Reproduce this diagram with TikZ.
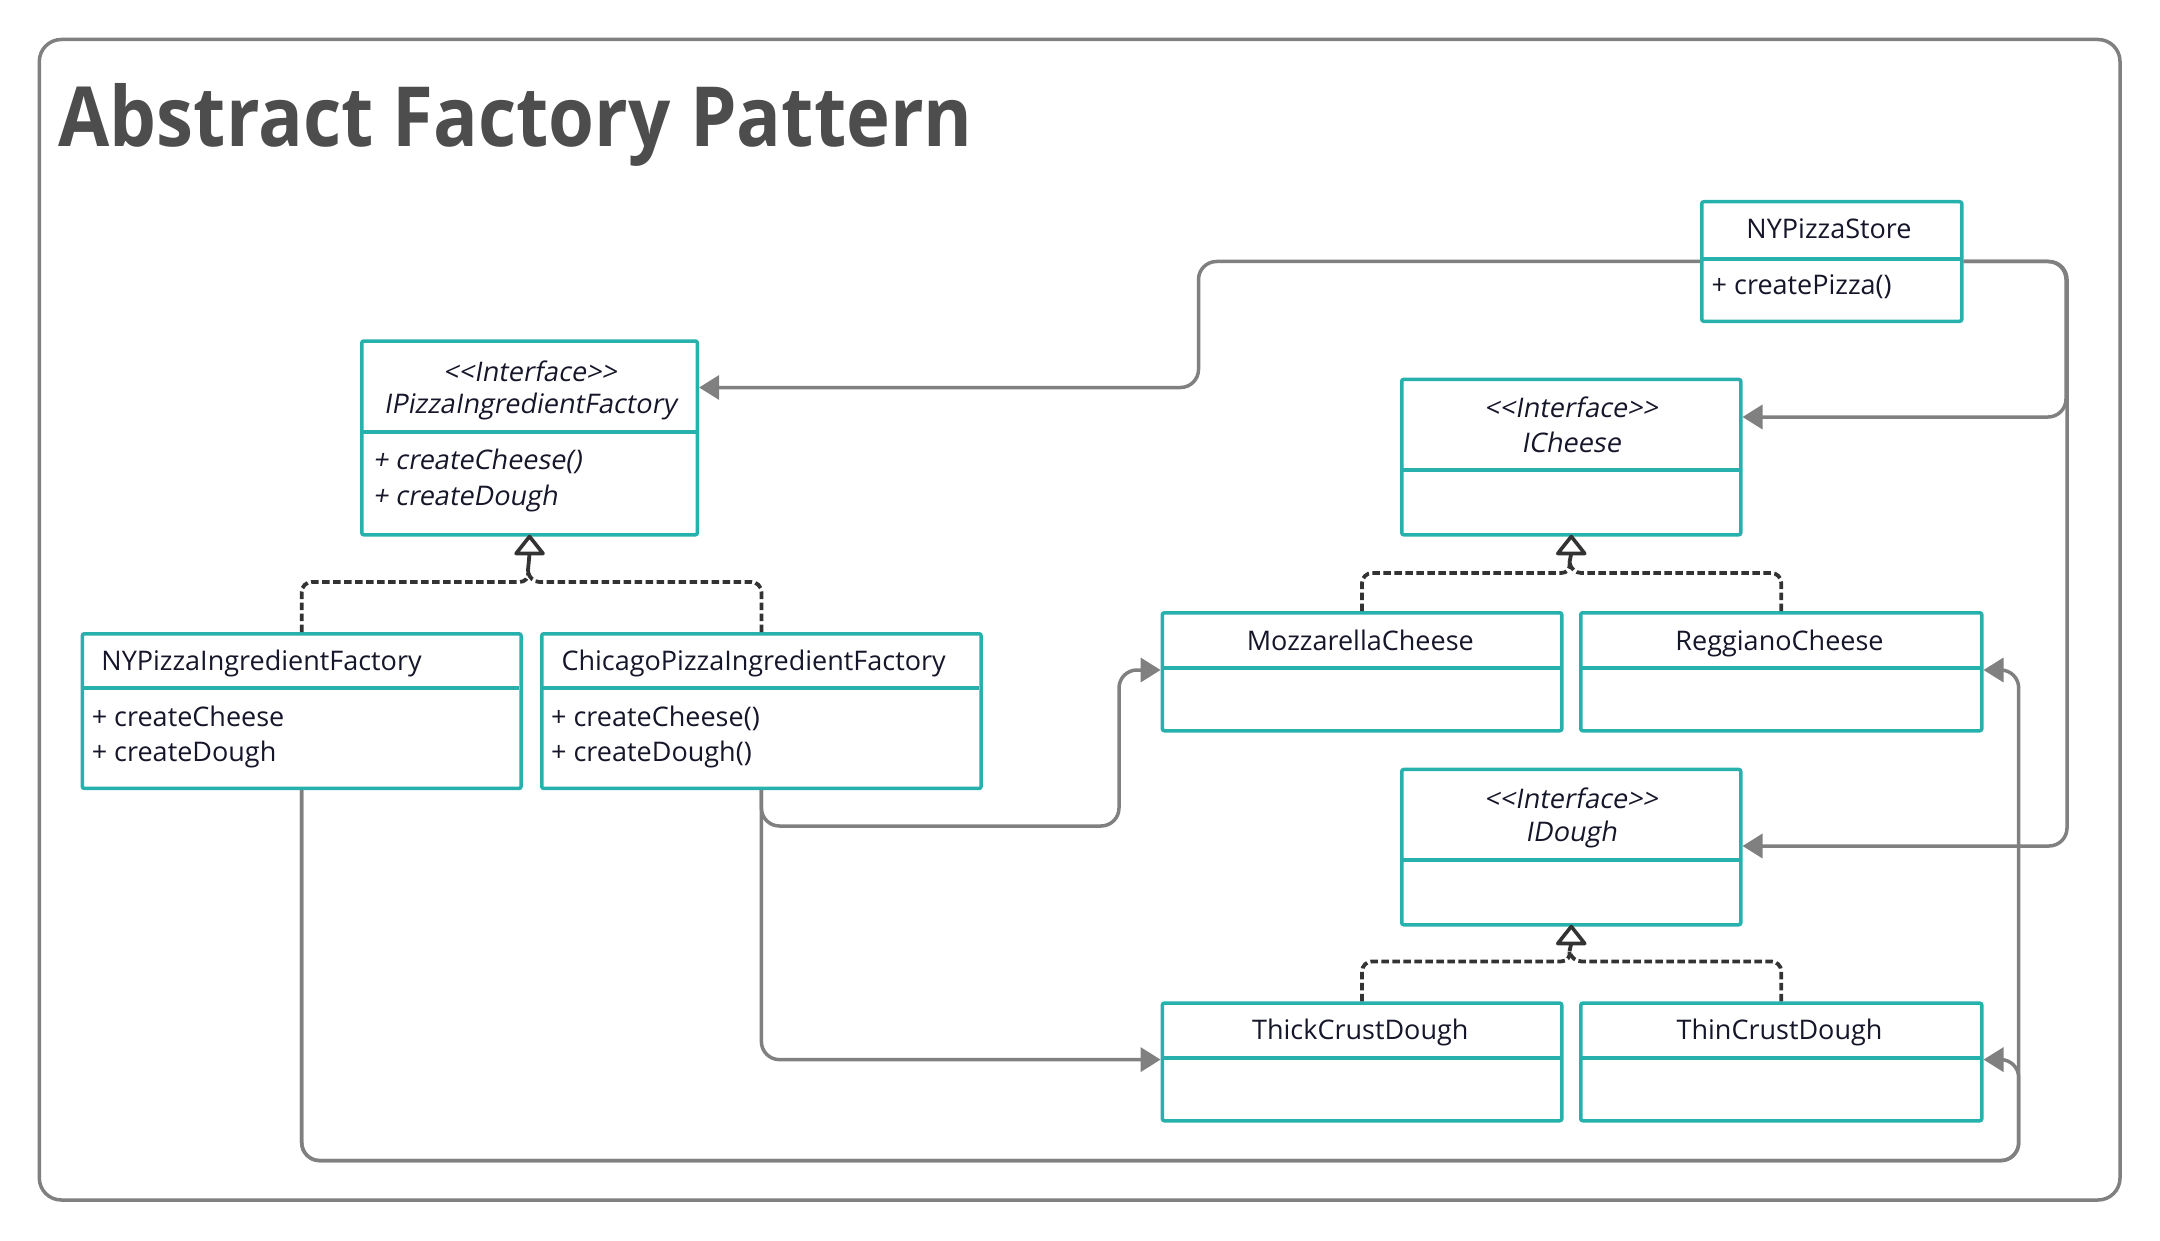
\documentclass[tikz,border=0pt]{standalone}
\usepackage{fontspec}
\setmainfont{Open Sans}
\newfontfamily\titlefont{Open Sans}[FakeStretch=0.895]
\newfontfamily\slantfont{Open Sans}[FakeSlant=0.18]
\usetikzlibrary{arrows.meta}
\definecolor{clsteal}{HTML}{27B1AD}
\definecolor{wiregray}{HTML}{808080}
\definecolor{inkdark}{HTML}{333333}
\definecolor{txtdark}{HTML}{16162A}
\definecolor{titlegray}{HTML}{4D4D4D}
\begin{document}
\begin{tikzpicture}[x=1pt,y=-1pt,
    clsbox/.style={draw=clsteal,line width=3.5pt,rounded corners=2pt,fill=white,inner sep=0pt,anchor=north west},
    clsline/.style={draw=clsteal,line width=3.5pt},
    txt/.style={inner sep=0pt,text=txtdark,font=\fontsize{27}{32}\selectfont},
    itxt/.style={txt,font=\fontsize{27}{32}\selectfont\slantfont},
    assoc/.style={draw=wiregray,line width=3.5pt,rounded corners=18pt,-{Triangle[length=20pt,width=24pt]}},
    real/.style={draw=inkdark,line width=3.8pt,dash pattern=on 7.5pt off 3.5pt,rounded corners=10pt},
    realstem/.style={draw=inkdark,line width=3.8pt},
    realtip/.style={draw=inkdark,fill=white,line width=3.6pt,line join=round}]
    \useasboundingbox (0,0) rectangle (2160,1241);
    \draw[wiregray,line width=3.5pt,rounded corners=22pt] (39.3,39.5) rectangle (2120,1200);% cadre
    \node[anchor=base west,inner sep=0pt,text=titlegray,font=\fontsize{83}{90}\selectfont\titlefont\bfseries] (title) at (58.5,147) {Abstract Factory Pattern};
    % classes: nom/gauche/haut/droite/bas/separateur
    \foreach \n/\l/\t/\r/\b/\d in {store/1700/200/1960/319.5/259,
            ifac/360/339.3/695.6/533/432,
            icheese/1400/377.6/1739/533/470,
            moz/1160.6/611/1560/729/668,
            reg/1579/611/1980/729/668,
            nyfac/80.6/632/519.3/786.7/688,
            chifac/540/632/979.3/786.7/688,
            idough/1400/767.7/1739/923/860,
            thick/1160.6/1001.4/1560/1119/1058,
            thin/1579/1001.4/1980/1119/1058}{
        \node[clsbox,minimum width={(\r-\l)*1pt},minimum height={(\b-\t)*1pt}] (\n) at (\l,\t) {};
        \draw[clsline] (\l,\d) -- (\r,\d);
    }
    % textes
    \node[txt] (store-n) at (1829,229) {NYPizzaStore};
    \node[txt,anchor=mid west] (store-o) at (1711.5,292) {+ createPizza()};
    \node[itxt] (ifac-s) at (530,371) {{<}{<}Interface{>}{>}};
    \node[itxt] (ifac-n) at (530,406) {IPizzaIngredientFactory};
    \node[itxt,anchor=mid west] (ifac-o1) at (372.6,467) {+ createCheese()};
    \node[itxt,anchor=mid west] (ifac-o2) at (372.6,503) {+ createDough};
    \node[itxt] (icheese-s) at (1571,407) {{<}{<}Interface{>}{>}};
    \node[itxt] (icheese-n) at (1571,442) {ICheese};
    \node[txt] (moz-n) at (1360.3,640) {MozzarellaCheese};
    \node[txt] (reg-n) at (1779.5,643.5) {ReggianoCheese};
    \node[txt,anchor=mid west] (nyfac-n) at (101.2,668) {NYPizzaIngredientFactory};
    \node[txt,anchor=mid west] (nyfac-o1) at (91.6,724) {+ createCheese};
    \node[txt,anchor=mid west] (nyfac-o2) at (91.6,759) {+ createDough};
    \node[txt,anchor=mid west] (chifac-n) at (561.3,668) {ChicagoPizzaIngredientFactory};
    \node[txt,anchor=mid west] (chifac-o1) at (551,724) {+ createCheese()};
    \node[txt,anchor=mid west] (chifac-o2) at (551,759) {+ createDough()};
    \node[itxt] (idough-s) at (1571,798) {{<}{<}Interface{>}{>}};
    \node[itxt] (idough-n) at (1571,834) {IDough};
    \node[txt] (thick-n) at (1360.3,1032) {ThickCrustDough};
    \node[txt] (thin-n) at (1779.5,1032) {ThinCrustDough};
    % associations
    \draw[assoc] (store.west) -| (1198.5,387.5) -- (ifac.east |- 0,387.5);
    \draw[assoc] (store.east) -| (2066,417) -- (icheese.east |- 0,417);
    \draw[assoc] (store.east) -| (2067,846) -- (idough.east |- 0,846);
    \draw[assoc] (chifac.south) |- (1119,826) |- (moz.west |- 0,670);
    \draw[assoc] (chifac.south) |- (thick.west |- 0,1059.6);
    \draw[assoc] (nyfac.south) |- (2018.7,1160.6) |- (reg.east |- 0,670);
    \draw[assoc] (nyfac.south) |- (2018.7,1160.6) |- (thin.east |- 0,1059.6);
    % realisations
    \coordinate (ifac-j) at (528,570);
    \coordinate (icheese-j) at (1569.5,562);
    \coordinate (idough-j) at (1569.5,951);
    \draw[real] (nyfac.north) |- (ifac.south |- 0,582) -- (ifac-j);
    \draw[real] (chifac.north) |- (ifac.south |- 0,582) -- (ifac-j);
    \draw[realstem] (ifac-j) -- ([yshift=-17pt]ifac.south);
    \draw[realtip] (ifac.south) -- ++(-13.5,17) -- ++(27,0) -- cycle;
    \draw[real] (moz.north) |- (icheese.south |- 0,573) -- (icheese-j);
    \draw[real] (reg.north) |- (icheese.south |- 0,573) -- (icheese-j);
    \draw[realstem] (icheese-j) -- ([yshift=-17pt]icheese.south);
    \draw[realtip] (icheese.south) -- ++(-13.5,17) -- ++(27,0) -- cycle;
    \draw[real] (thick.north) |- (idough.south |- 0,961.4) -- (idough-j);
    \draw[real] (thin.north) |- (idough.south |- 0,961.4) -- (idough-j);
    \draw[realstem] (idough-j) -- ([yshift=-17pt]idough.south);
    \draw[realtip] (idough.south) -- ++(-13.5,17) -- ++(27,0) -- cycle;
\end{tikzpicture}
\end{document}
